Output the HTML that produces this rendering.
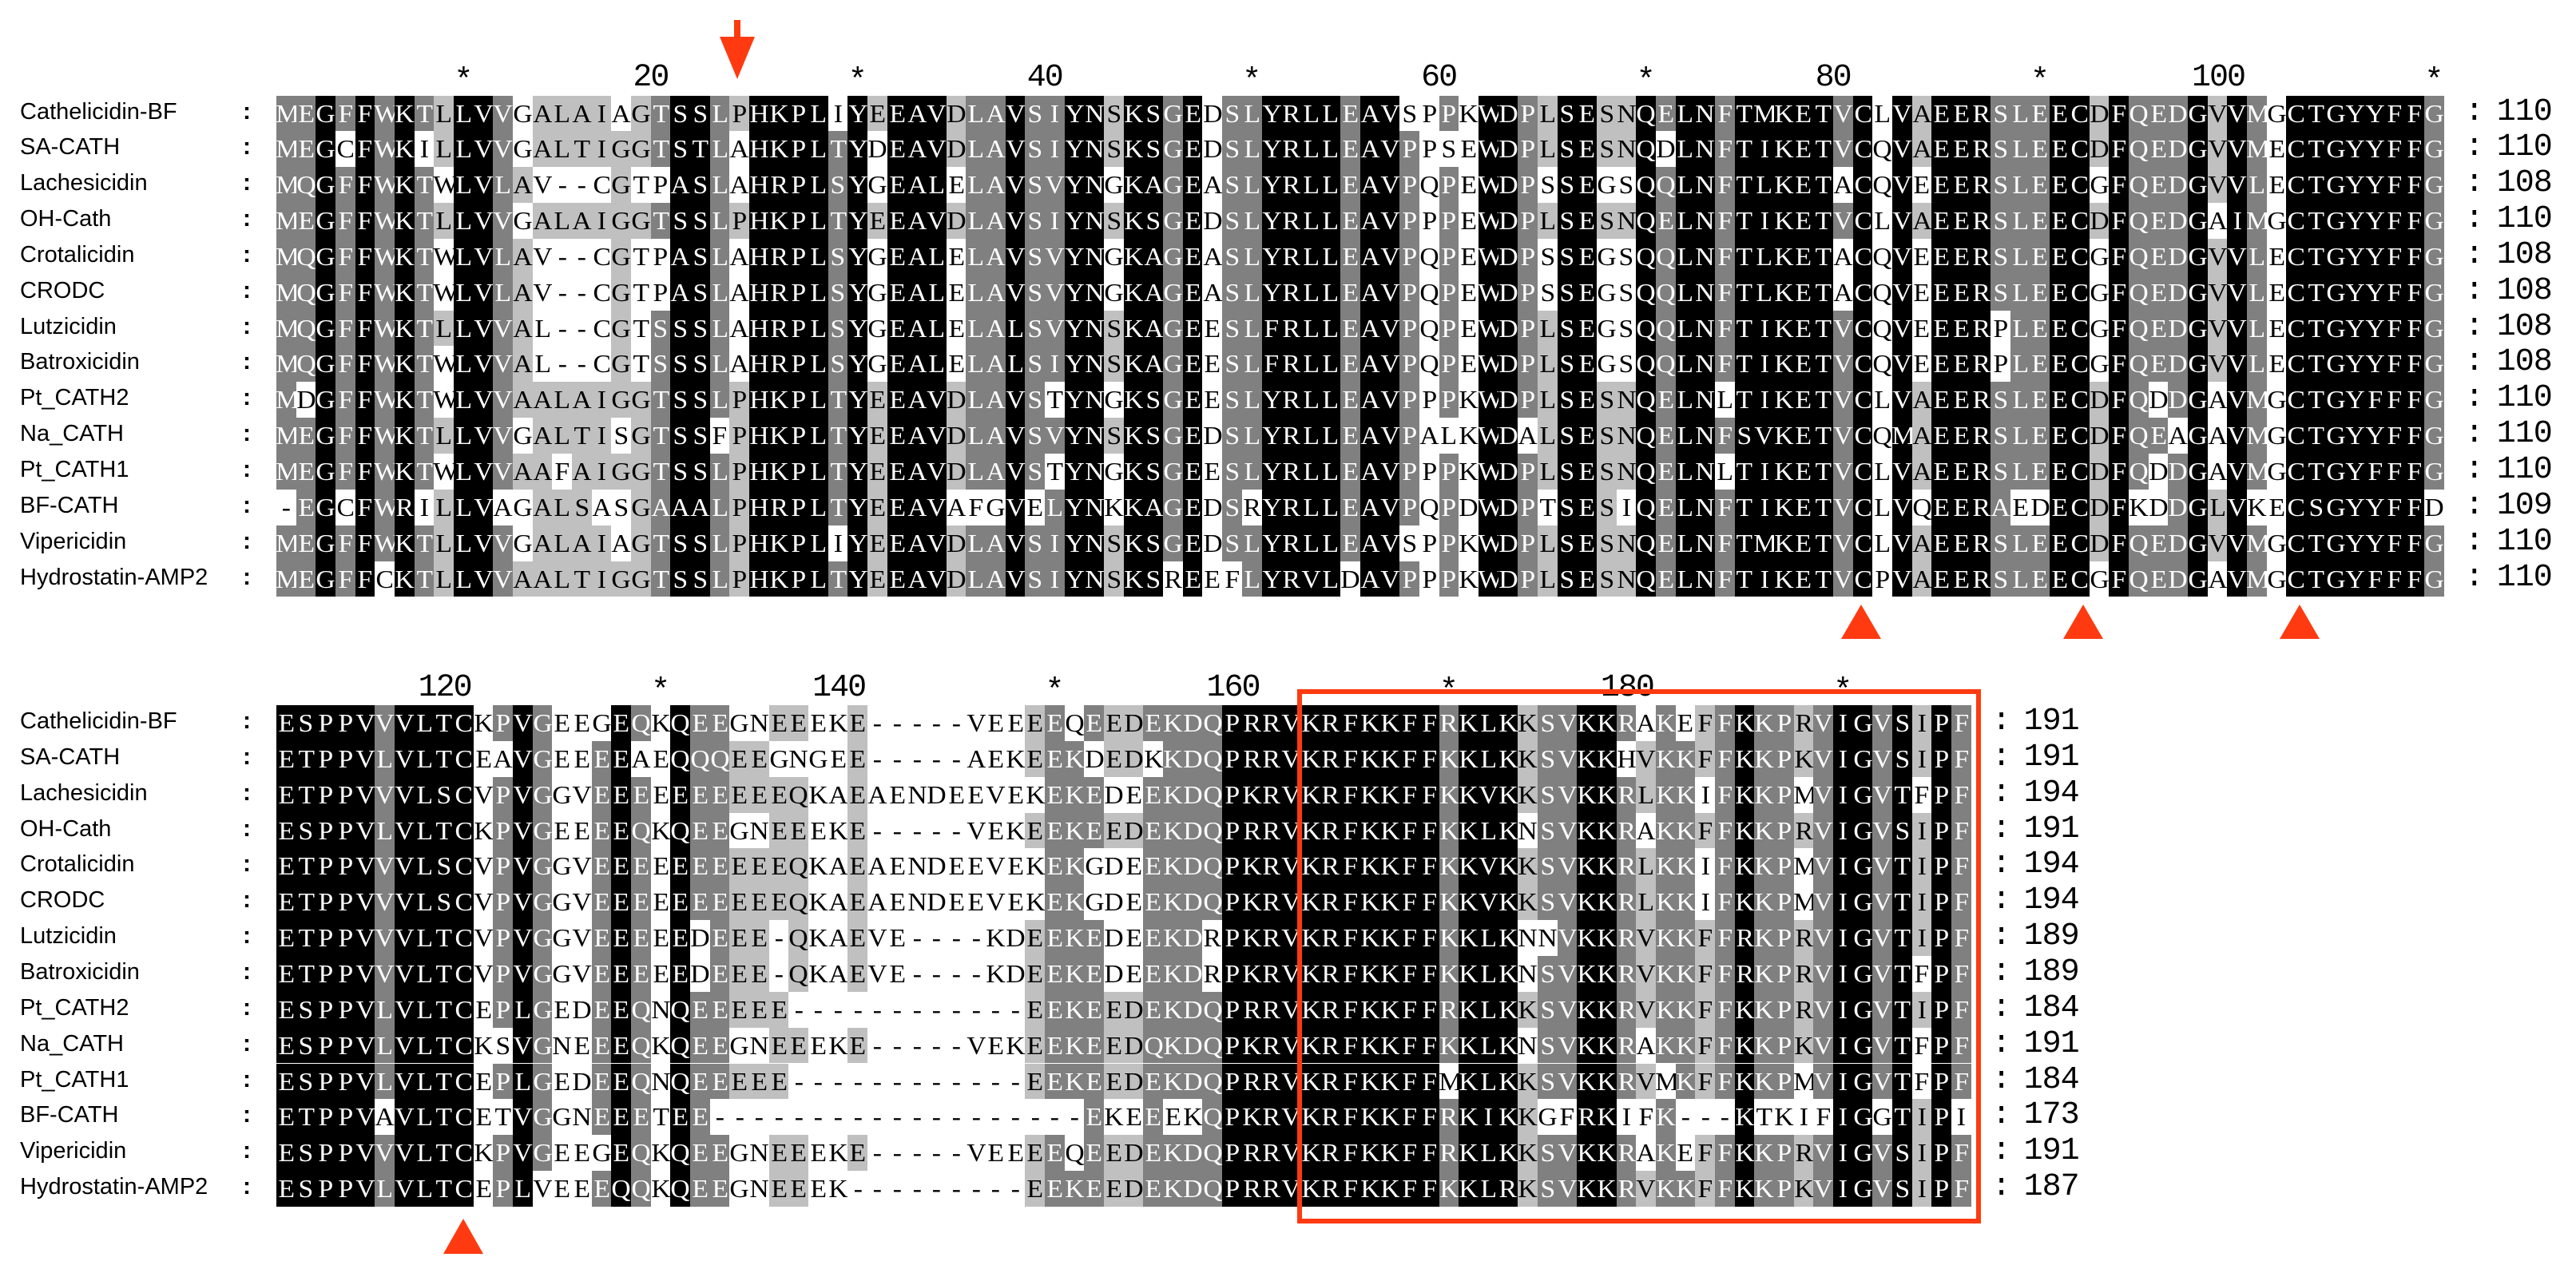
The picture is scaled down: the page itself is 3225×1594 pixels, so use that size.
<!DOCTYPE html>
<html><head><meta charset="utf-8">
<style>
html,body{margin:0;padding:0;background:#fff;}
#c{position:relative;width:3225px;height:1594px;overflow:hidden;background:#fff;}
.cell{position:absolute;height:44.85px;line-height:44.85px;text-align:center;font-family:"Liberation Serif",serif;font-size:32px;}
.cell span{display:inline-block;transform:scaleX(1.05);}
.nm{position:absolute;left:25px;font-family:"Liberation Sans",sans-serif;font-size:29px;line-height:44.85px;color:#000;white-space:nowrap;}
.col{position:absolute;left:304px;font-family:"Liberation Sans",sans-serif;font-size:30px;font-weight:bold;line-height:44.85px;}
.mono{position:absolute;font-family:"Liberation Mono",monospace;font-size:40px;line-height:44.85px;white-space:pre;color:#000;}
.rl{position:absolute;font-family:"Liberation Mono",monospace;font-size:40px;line-height:40px;white-space:pre;color:#000;}
</style></head><body><div id="c">
<svg width="3225" height="1594" style="position:absolute;left:0;top:0;z-index:5" xmlns="http://www.w3.org/2000/svg">
<rect x="919" y="25" width="8" height="25" fill="#ff3a10"/>
<polygon points="901,46 945,46 923,99" fill="#ff3a10"/>
<polygon points="2330,757 2305,800 2355,800" fill="#ff3a10"/>
<polygon points="2608,757 2583,800 2633,800" fill="#ff3a10"/>
<polygon points="2879,757 2854,800 2904,800" fill="#ff3a10"/>
<polygon points="580,1526 555,1570 605,1570" fill="#ff3a10"/>
<rect x="1627" y="866" width="850" height="663" fill="none" stroke="#ff3a10" stroke-width="6"/>
</svg>
</div>
<script>
var names=["Cathelicidin-BF","SA-CATH","Lachesicidin","OH-Cath","Crotalicidin","CRODC","Lutzicidin","Batroxicidin","Pt_CATH2","Na_CATH","Pt_CATH1","BF-CATH","Vipericidin","Hydrostatin-AMP2"];
var b1=[
"MEGFFWKTLLVVGALAIAGTSSLPHKPLIYEEAVDLAVSIYNSKSGEDSLYRLLEAVSPPKWDPLSESNQELNFTMKETVCLVAEERSLEECDFQEDGVVMGCTGYYFFG",
"MEGCFWKILLVVGALTIGGTSTLAHKPLTYDEAVDLAVSIYNSKSGEDSLYRLLEAVPPSEWDPLSESNQDLNFTIKETVCQVAEERSLEECDFQEDGVVMECTGYYFFG",
"MQGFFWKTWLVLAV--CGTPASLAHRPLSYGEALELAVSVYNGKAGEASLYRLLEAVPQPEWDPSSEGSQQLNFTLKETACQVEEERSLEECGFQEDGVVLECTGYYFFG",
"MEGFFWKTLLVVGALAIGGTSSLPHKPLTYEEAVDLAVSIYNSKSGEDSLYRLLEAVPPPEWDPLSESNQELNFTIKETVCLVAEERSLEECDFQEDGAIMGCTGYYFFG",
"MQGFFWKTWLVLAV--CGTPASLAHRPLSYGEALELAVSVYNGKAGEASLYRLLEAVPQPEWDPSSEGSQQLNFTLKETACQVEEERSLEECGFQEDGVVLECTGYYFFG",
"MQGFFWKTWLVLAV--CGTPASLAHRPLSYGEALELAVSVYNGKAGEASLYRLLEAVPQPEWDPSSEGSQQLNFTLKETACQVEEERSLEECGFQEDGVVLECTGYYFFG",
"MQGFFWKTLLVVAL--CGTSSSLAHRPLSYGEALELALSVYNSKAGEESLFRLLEAVPQPEWDPLSEGSQQLNFTIKETVCQVEEERPLEECGFQEDGVVLECTGYYFFG",
"MQGFFWKTWLVVAL--CGTSSSLAHRPLSYGEALELALSIYNSKAGEESLFRLLEAVPQPEWDPLSEGSQQLNFTIKETVCQVEEERPLEECGFQEDGVVLECTGYYFFG",
"MDGFFWKTWLVVAALAIGGTSSLPHKPLTYEEAVDLAVSTYNGKSGEESLYRLLEAVPPPKWDPLSESNQELNLTIKETVCLVAEERSLEECDFQDDGAVMGCTGYFFFG",
"MEGFFWKTLLVVGALTISGTSSFPHKPLTYEEAVDLAVSVYNSKSGEDSLYRLLEAVPALKWDALSESNQELNFSVKETVCQMAEERSLEECDFQEAGAVMGCTGYYFFG",
"MEGFFWKTWLVVAAFAIGGTSSLPHKPLTYEEAVDLAVSTYNGKSGEESLYRLLEAVPPPKWDPLSESNQELNLTIKETVCLVAEERSLEECDFQDDGAVMGCTGYFFFG",
"-EGCFWRILLVAGALSASGAAALPHRPLTYEEAVAFGVELYNKKAGEDSRYRLLEAVPQPDWDPTSESIQELNFTIKETVCLVQEERAEDECDFKDDGLVKECSGYYFFD",
"MEGFFWKTLLVVGALAIAGTSSLPHKPLIYEEAVDLAVSIYNSKSGEDSLYRLLEAVSPPKWDPLSESNQELNFTMKETVCLVAEERSLEECDFQEDGVVMGCTGYYFFG",
"MEGFFCKTLLVVAALTIGGTSSLPHKPLTYEEAVDLAVSIYNSKSREEFLYRVLDAVPPPKWDPLSESNQELNFTIKETVCPVAEERSLEECGFQEDGAVMGCTGYFFFG"];
var b2=[
"ESPPVVVLTCKPVGEEGEQKQEEGNEEEKE-----VEEEEQEEDEKDQPRRVKRFKKFFRKLKKSVKKRAKEFFKKPRVIGVSIPF",
"ETPPVLVLTCEAVGEEEEAEQQQEEGNGEE-----AEKEEKDEDKKDQPRRVKRFKKFFKKLKKSVKKHVKKFFKKPKVIGVSIPF",
"ETPPVVVLSCVPVGGVEEEEEEEEEEQKAEAENDEEVEKEKEDEEKDQPKRVKRFKKFFKKVKKSVKKRLKKIFKKPMVIGVTFPF",
"ESPPVLVLTCKPVGEEEEQKQEEGNEEEKE-----VEKEEKEEDEKDQPRRVKRFKKFFKKLKNSVKKRAKKFFKKPRVIGVSIPF",
"ETPPVVVLSCVPVGGVEEEEEEEEEEQKAEAENDEEVEKEKGDEEKDQPKRVKRFKKFFKKVKKSVKKRLKKIFKKPMVIGVTIPF",
"ETPPVVVLSCVPVGGVEEEEEEEEEEQKAEAENDEEVEKEKGDEEKDQPKRVKRFKKFFKKVKKSVKKRLKKIFKKPMVIGVTIPF",
"ETPPVVVLTCVPVGGVEEEEEDEEE-QKAEVE----KDEEKEDEEKDRPKRVKRFKKFFKKLKNNVKKRVKKFFRKPRVIGVTIPF",
"ETPPVVVLTCVPVGGVEEEEEDEEE-QKAEVE----KDEEKEDEEKDRPKRVKRFKKFFKKLKNSVKKRVKKFFRKPRVIGVTFPF",
"ESPPVLVLTCEPLGEDEEQNQEEEEE------------EEKEEDEKDQPRRVKRFKKFFRKLKKSVKKRVKKFFKKPRVIGVTIPF",
"ESPPVLVLTCKSVGNEEEQKQEEGNEEEKE-----VEKEEKEEDQKDQPKRVKRFKKFFKKLKNSVKKRAKKFFKKPKVIGVTFPF",
"ESPPVLVLTCEPLGEDEEQNQEEEEE------------EEKEEDEKDQPRRVKRFKKFFMKLKKSVKKRVMKFFKKPMVIGVTFPF",
"ETPPVAVLTCETVGGNEEETEE-------------------EKEEEKQPKRVKRFKKFFRKIKKGFRKIFK---KTKIFIGGTIPI",
"ESPPVVVLTCKPVGEEGEQKQEEGNEEEKE-----VEEEEQEEDEKDQPRRVKRFKKFFRKLKKSVKKRAKEFFKKPRVIGVSIPF",
"ESPPVLVLTCEPLVEEEQQKQEEGNEEEK---------EEKEEDEKDQPRRVKRFKKFFKKLRKSVKKRVKKFFKKPKVIGVSIPF"];
var ends1=[110,110,108,110,108,108,108,108,110,110,110,109,110,110];
var ends2=[191,191,194,191,194,194,189,189,184,191,184,173,191,187];
var groups=["STA","EQ","KR","LIVM","FYW","DN"];
function key(ch){for(var g of groups){if(g.indexOf(ch)>=0)return g;}return ch;}
var X0=346,CW=24.67,R=44.85;
var c=document.getElementById('c');var h=[];
function block(seqs,top,ends,rulerTop,labels){
 var n=seqs[0].length,N=seqs.length;
 for(var j=0;j<n;j++){
  var cnt={};
  for(var i=0;i<N;i++){var ch=seqs[i][j];if(ch=='-')continue;var k=key(ch);cnt[k]=(cnt[k]||0)+1;}
  var best=null,bv=0;Object.keys(cnt).sort().forEach(function(k){if(cnt[k]>bv){bv=cnt[k];best=k;}});
  var f=bv/N,lvl=0;if(f>=0.999)lvl=3;else if(f>=0.75)lvl=2;else if(f>0.5)lvl=1;
  for(var i=0;i<N;i++){
   var ch=seqs[i][j];var bg='#fff',fg='#000';
   if(ch!='-'&&lvl>0&&key(ch)==best){if(lvl==3){bg='#000';fg='#fff';}else if(lvl==2){bg='#808080';fg='#fff';}else{bg='#c0c0c0';fg='#000';}}
   h.push('<div class="cell" style="left:'+(X0+j*CW).toFixed(2)+'px;top:'+(top+i*R+1).toFixed(2)+'px;width:'+(CW+0.6).toFixed(2)+'px;background:'+bg+';color:'+fg+'"><span>'+ch+'</span></div>');
  }
 }
 for(var i=0;i<N;i++){
  var y=(top+i*R).toFixed(2);
  h.push('<div class="nm" style="top:'+(top+i*R-1).toFixed(2)+'px">'+names[i]+'</div>');
  h.push('<div class="col" style="top:'+(top+i*R-1).toFixed(2)+'px">:</div>');
  var xe=X0+n*CW;
  h.push('<div class="mono" style="left:'+(xe+26).toFixed(1)+'px;top:'+y+'px">:</div>');
  h.push('<div class="mono" style="left:'+(xe+66).toFixed(1)+'px;top:'+y+'px;letter-spacing:-1px">'+ends[i]+'</div>');
 }
 labels.forEach(function(l){
  var col=l[0],t=l[1];
  if(t=='*'){h.push('<div class="rl" style="left:'+(X0+(col-0.5)*CW-12).toFixed(1)+'px;top:'+(rulerTop+6)+'px;width:24px;text-align:center">*</div>');}
  else{h.push('<div class="rl" style="left:'+(X0+col*CW-3-200).toFixed(1)+'px;top:'+(rulerTop+1)+'px;width:200px;text-align:right;letter-spacing:-2px">'+t+'</div>');}
 });
}
block(b1,118.5,ends1,77,[[10,'*'],[20,'20'],[30,'*'],[40,'40'],[50,'*'],[60,'60'],[70,'*'],[80,'80'],[90,'*'],[100,'100'],[110,'*']]);
block(b2,882,ends2,841,[[10,'120'],[20,'*'],[30,'140'],[40,'*'],[50,'160'],[60,'*'],[70,'180'],[80,'*']]);
c.insertAdjacentHTML('beforeend',h.join(''));
</script>
</body></html>
